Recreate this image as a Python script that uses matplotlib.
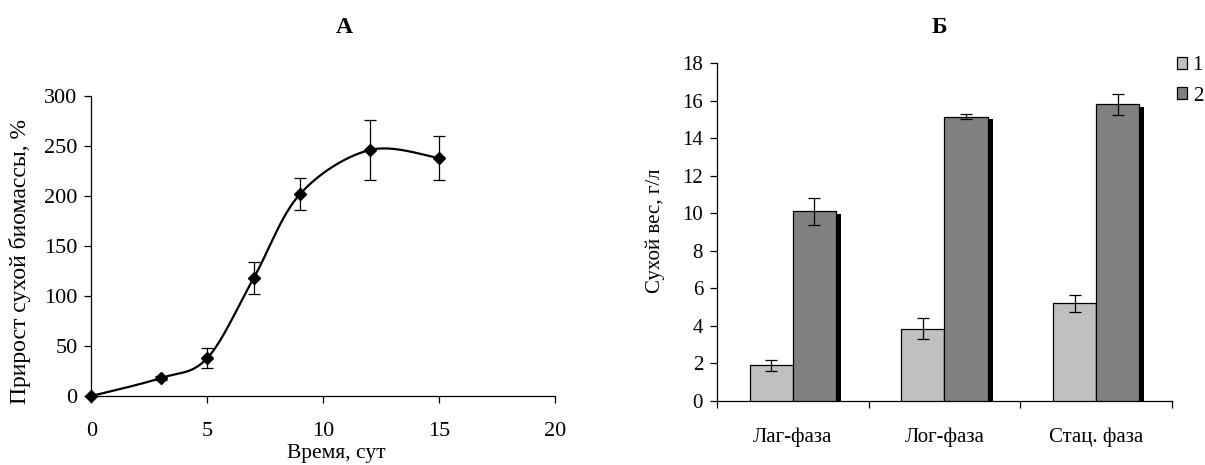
import matplotlib
matplotlib.use('Agg')
import matplotlib.pyplot as plt
import numpy as np
from matplotlib.patches import Patch

plt.rcParams['font.family'] = ['Liberation Serif', 'DejaVu Serif']
plt.rcParams['font.size'] = 15

# panel A: biomass growth over time
days = [0, 3, 5, 7, 9, 12, 15]
growth = [0, 18, 38, 118, 202, 246, 238]
growth_err = [0, 2, 10, 16, 16, 30, 22]

# panel B: dry weight by growth phase
phases = ['Лаг-фаза', 'Лог-фаза', 'Стац. фаза']
weight_1 = [1.9, 3.85, 5.2]
weight_1_err = [0.3, 0.55, 0.45]
weight_2 = [10.1, 15.15, 15.8]
weight_2_err = [0.7, 0.12, 0.55]
series_labels = ['1', '2']


def smooth_curve(x, y, sx, sy, n=30):
    """Bezier smoothing (Excel style), tangents computed in scaled units."""
    px = np.asarray(x, float) * sx
    py = np.asarray(y, float) * sy
    pts = np.column_stack([px, py])
    out = [pts[0]]
    for i in range(len(pts) - 1):
        p0 = pts[i - 1] if i > 0 else pts[i]
        p1 = pts[i]
        p2 = pts[i + 1]
        p3 = pts[i + 2] if i + 2 < len(pts) else pts[i + 1]
        c1 = p1 + (p2 - p0) / 6.0
        c2 = p2 - (p3 - p1) / 6.0
        t = np.linspace(0, 1, n)[1:, None]
        seg = ((1 - t) ** 3) * p1 + 3 * ((1 - t) ** 2) * t * c1 + 3 * (1 - t) * t ** 2 * c2 + t ** 3 * p2
        out.extend(seg)
    out = np.array(out)
    return out[:, 0] / sx, out[:, 1] / sy


def style_axes(ax, size):
    for s in ['top', 'right']:
        ax.spines[s].set_visible(False)
    for s in ['left', 'bottom']:
        ax.spines[s].set_linewidth(0.9)
    ax.tick_params(direction='out', length=5, width=0.9, labelsize=size, pad=5)


fig = plt.figure(figsize=(12.05, 4.65), dpi=100)

# ---- A ----
ax1 = fig.add_axes([0.0759, 0.1484, 0.3847, 0.6451])
sx = 463.5 / 20.0
sy = 300.0 / 300.0
cx, cy = smooth_curve(days, growth, sx, sy)
ax1.plot(cx, cy, color='black', linewidth=1.6, zorder=2, clip_on=False)
ax1.errorbar(days, growth, yerr=growth_err, fmt='D', color='black', markersize=6,
             ecolor='black', elinewidth=0.9, capsize=4, capthick=0.9, zorder=3,
             clip_on=False)
ax1.set_xlim(0, 20)
ax1.set_ylim(0, 300)
ax1.set_xticks([0, 5, 10, 15, 20])
ax1.set_yticks(range(0, 301, 50))
style_axes(ax1, 16)
ax1.tick_params(axis='x', pad=14)
ax1.set_xlabel('Время, сут', fontsize=15.5, va='center')
ax1.xaxis.set_label_coords(336 / 1205, 1 - 453 / 465, transform=fig.transFigure)
ax1.set_ylabel('Прирост сухой биомассы, %', fontsize=17, va='center')
ax1.yaxis.set_label_coords(20 / 1205, 1 - 261 / 465, transform=fig.transFigure)

# ---- Б ----
ax2 = fig.add_axes([0.595, 0.1376, 0.3776, 0.7269])
x = np.arange(len(phases))
w = 0.285
ax2.bar(x - w / 2, weight_1, width=w, color='#C0C0C0', edgecolor='black', linewidth=0.9,
        yerr=weight_1_err, capsize=4, error_kw=dict(elinewidth=0.9, capthick=0.9), zorder=3)
# shadow behind the dark bars
ax2.bar(x + w / 2 + 0.033, np.array(weight_2) - 0.14, width=w, color='black', linewidth=0, zorder=2)
ax2.bar(x + w / 2, weight_2, width=w, color='#808080', edgecolor='black', linewidth=0.9,
        yerr=weight_2_err, capsize=4, error_kw=dict(elinewidth=0.9, capthick=0.9), zorder=3)
ax2.set_xlim(-0.5, 2.5)
ax2.set_ylim(0, 18)
ax2.set_yticks(range(0, 19, 2))
ax2.set_xticks([-0.5, 0.5, 1.5, 2.5])
ax2.set_xticklabels([])
ax2.set_xticks(x, minor=True)
ax2.set_xticklabels(phases, minor=True)
style_axes(ax2, 15)
ax2.tick_params(axis='x', which='minor', length=0, pad=19, labelsize=15)
ax2.set_ylabel('Сухой вес, г/л', fontsize=15, va='center')
ax2.yaxis.set_label_coords(655 / 1205, 1 - 231 / 465, transform=fig.transFigure)

handles = [Patch(facecolor='#C0C0C0', edgecolor='black', linewidth=0.9),
           Patch(facecolor='#808080', edgecolor='black', linewidth=0.9)]
fig.legend(handles, series_labels, loc='upper left', bbox_to_anchor=(0.9768, 0.879),
           frameon=False, fontsize=15, handlelength=0.5, handleheight=0.5,
           handletextpad=0.25, labelspacing=0.55, borderpad=0, borderaxespad=0)

fig.text(0.286, 0.94, 'А', fontsize=17, fontweight='bold', ha='center', va='center')
fig.text(0.780, 0.94, 'Б', fontsize=17, fontweight='bold', ha='center', va='center')

fig.savefig('out.png', dpi=100)
